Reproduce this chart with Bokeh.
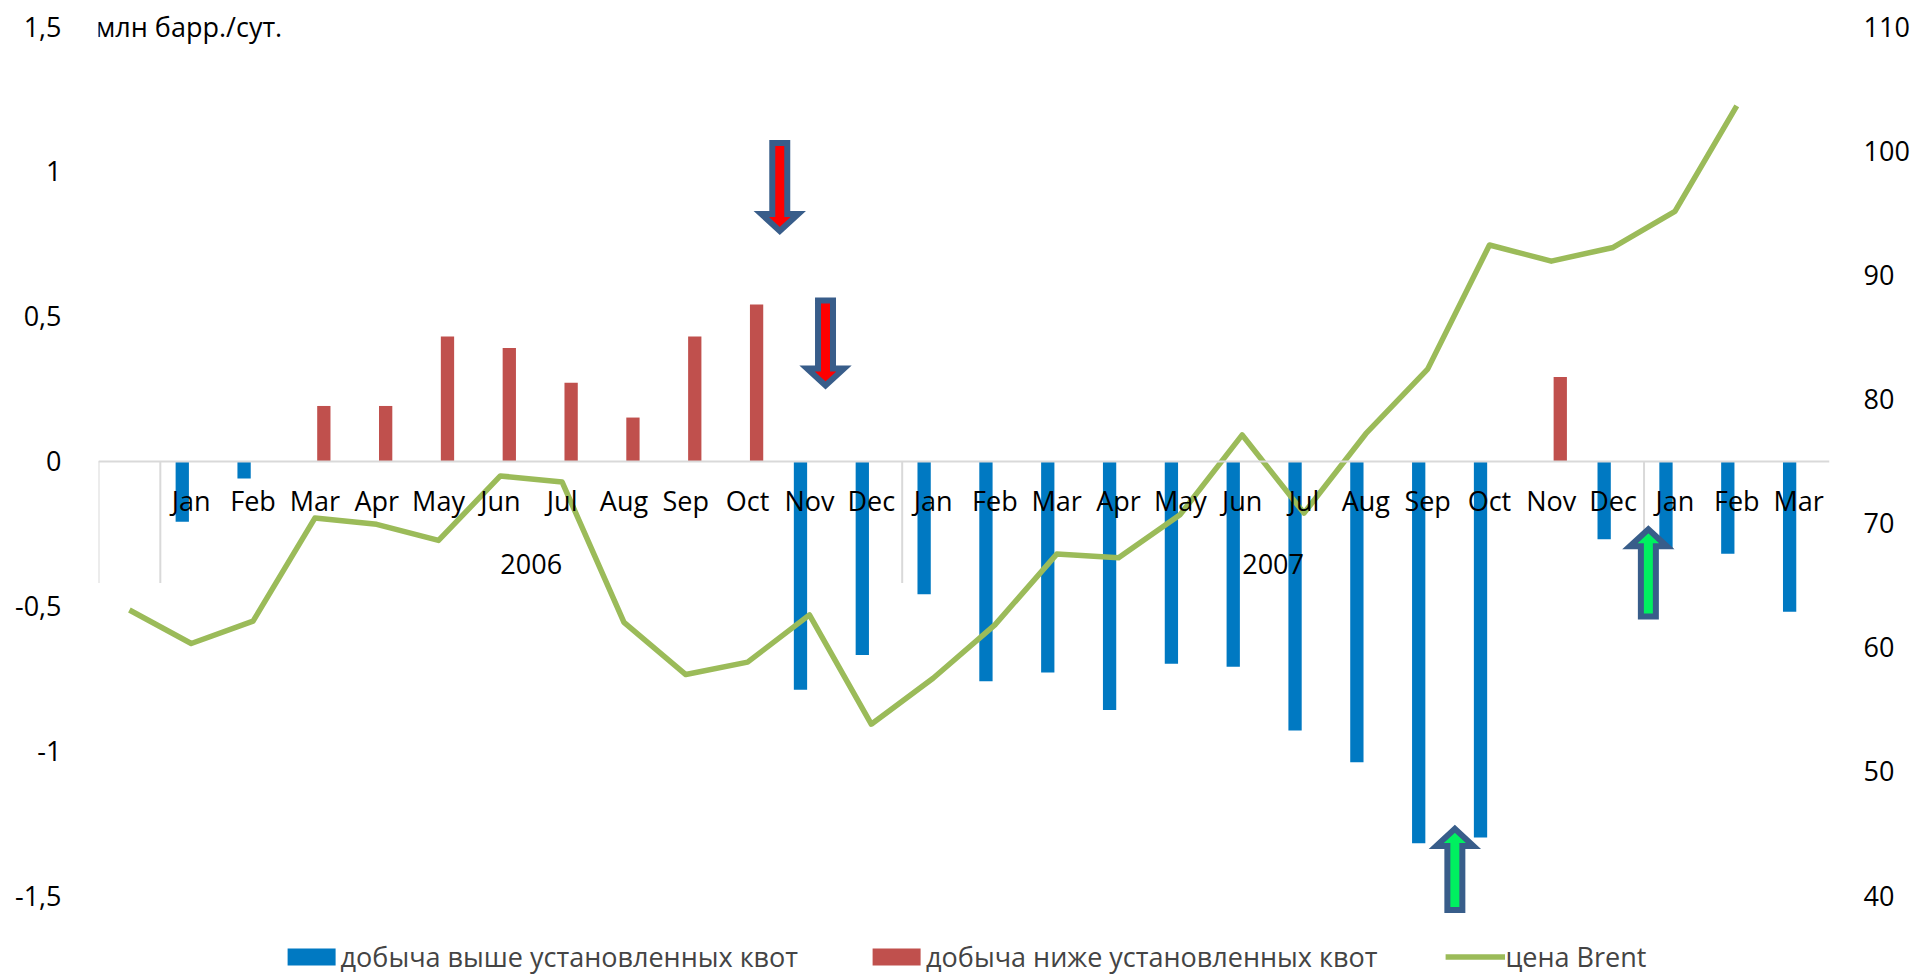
from bokeh.plotting import figure
from bokeh.models import (FactorRange, Range1d, LinearAxis, FixedTicker, Legend,
                          LegendItem, ColumnDataSource, Label)
from bokeh.transform import dodge
from bokeh.core.properties import value
from bokeh.embed import file_html
from bokeh.resources import INLINE

# ---------------- data ----------------
month_names = ["Jan", "Feb", "Mar", "Apr", "May", "Jun",
               "Jul", "Aug", "Sep", "Oct", "Nov", "Dec"]
years = ["2005"] + ["2006"] * 12 + ["2007"] * 12 + ["2008"] * 3
months = [""] + month_names + month_names + ["Jan", "Feb", "Mar"]
year_labels = ["2006", "2007"]

# production above quotas (million bbl/day, shown negative)
above_quota = [None, -0.21, -0.06, None, None, None, None, None, None, None, None,
               -0.79, -0.67, -0.46, -0.76, -0.73, -0.86, -0.70, -0.71, -0.93, -1.04,
               -1.32, -1.30, None, -0.27, -0.30, -0.32, -0.52]
# production below quotas
below_quota = [None, None, None, 0.19, 0.19, 0.43, 0.39, 0.27, 0.15, 0.43, 0.54,
               None, None, None, None, None, None, None, None, None, None,
               None, None, 0.29, None, None, None, None]
# Brent price, USD/bbl
brent = [63.0, 60.3, 62.1, 70.4, 69.9, 68.6, 73.8, 73.3, 62.0, 57.8, 58.8,
         62.6, 53.8, 57.5, 61.8, 67.5, 67.2, 70.7, 77.1, 70.8, 77.2,
         82.4, 92.4, 91.1, 92.2, 95.1, 103.6, None]

left_ticks = [-1.5, -1.0, -0.5, 0.0, 0.5, 1.0, 1.5]
left_tick_labels = ["-1,5", "-1", "-0,5", "0", "0,5", "1", "1,5"]
right_ticks = [40, 50, 60, 70, 80, 90, 100, 110]

label_above = "добыча выше установленных квот"
label_below = "добыча ниже установленных квот"
label_brent = "цена Brent"
unit_label = "млн барр./сут."

# annotation arrows: category, offset within category, tail value, tip value
arrow_cat = [("2006", "Nov"), ("2006", "Nov"), ("2007", "Sep"), ("2008", "Jan")]
arrow_dx = [-0.48, 0.26, 0.44, -0.43]
arrow_tail = [1.098, 0.554, -1.55, -0.537]
arrow_tip = [0.794, 0.261, -1.27, -0.236]
arrow_fill = ["#FF0000", "#FF0000", "#00F060", "#00F060"]

# ---------------- style / layout ----------------
BLUE = "#0079C2"
RED = "#C0504D"
GREEN = "#9BBB59"
GREY = "#D9D9D9"
OUTLINE = "#385D8A"
FONT = "Open Sans"
FS = "27px"

W, H = 1912, 975
ML, MR = 98, 81
TOP_PX = 26                       # pixel row of the top tick (1,5 / 110)
FRAME_W = W - ML - MR
N = len(months)
PXX = FRAME_W / N                 # px per category
PXY = 869 / 3.0                   # px per left-axis unit
Y_END = 1.5 + TOP_PX / PXY
Y_START = 1.5 - (H - TOP_PX) / PXY
R_PER_UNIT = (110 - 40) / 3.0
R_END = 40 + (Y_END + 1.5) * R_PER_UNIT
R_START = 40 + (Y_START + 1.5) * R_PER_UNIT

factors = list(zip(years, months))
idx = {f: i for i, f in enumerate(factors)}

x_range = FactorRange(*factors, factor_padding=0, group_padding=0,
                      subgroup_padding=0, range_padding=0)

p = figure(width=W, height=H, x_range=x_range, y_range=Range1d(Y_START, Y_END),
           output_backend="svg", toolbar_location=None,
           min_border_left=ML, min_border_right=MR, min_border_top=0,
           min_border_bottom=0)
p.outline_line_color = None
p.grid.visible = False
p.extra_y_ranges = {"brent": Range1d(R_START, R_END)}

# x axis at zero
xa = p.xaxis[0]
xa.fixed_location = 0
xa.axis_line_color = GREY
xa.axis_line_width = 2
xa.major_tick_line_color = None
xa.minor_tick_line_color = None
xa.major_label_text_font = FONT
xa.major_label_text_font_size = FS
xa.major_label_text_color = "black"
xa.major_label_standoff = 15
xa.group_text_color = None
xa.separator_line_color = None

# left axis
ya = p.yaxis[0]
ya.ticker = FixedTicker(ticks=left_ticks)
ya.major_label_overrides = dict(zip(left_ticks, left_tick_labels))
ya.axis_line_color = None
ya.major_tick_line_color = None
ya.minor_tick_line_color = None
ya.major_label_standoff = 31
ya.major_label_text_font = FONT
ya.major_label_text_font_size = FS
ya.major_label_text_color = "black"

# right axis
ra = LinearAxis(y_range_name="brent", ticker=FixedTicker(ticks=right_ticks))
ra.axis_line_color = None
ra.major_tick_line_color = None
ra.minor_tick_line_color = None
ra.major_label_standoff = 28
ra.major_label_text_font = FONT
ra.major_label_text_font_size = FS
ra.major_label_text_color = "black"
p.add_layout(ra, "right")

# group separators (at start of each year group)
sep_x = [0] + [i for i in range(1, N) if years[i] != years[i - 1]]
p.segment(x0=sep_x, y0=[0] * len(sep_x), x1=sep_x, y1=[-122 / PXY] * len(sep_x),
          line_color=GREY, line_width=2)

# bars
bsrc = ColumnDataSource(dict(x=[f for f, v in zip(factors, above_quota) if v is not None],
                             top=[v for v in above_quota if v is not None]))
rsrc = ColumnDataSource(dict(x=[f for f, v in zip(factors, below_quota) if v is not None],
                             top=[v for v in below_quota if v is not None]))
rb = p.vbar(x=dodge("x", -0.145, range=p.x_range), top="top", bottom=0, width=0.215,
            source=bsrc, fill_color=BLUE, line_color=None)
rr = p.vbar(x=dodge("x", 0.145, range=p.x_range), top="top", bottom=0, width=0.215,
            source=rsrc, fill_color=RED, line_color=None)

# year labels (drawn over the bars)
yl_x = []
for y in year_labels:
    ii = [i for i, yy in enumerate(years) if yy == y]
    yl_x.append((min(ii) + max(ii) + 1) / 2.0)
p.text(x=yl_x, y=[0] * len(yl_x), text=year_labels, y_offset=103,
       text_align="center", text_baseline="middle",
       text_font=value(FONT), text_font_size=FS, text_color="black")

# Brent line
lsrc = ColumnDataSource(dict(x=factors, y=[float("nan") if v is None else v for v in brent]))
rl = p.line(x="x", y="y", source=lsrc, y_range_name="brent",
            line_color=GREEN, line_width=5.5, line_join="round")

# arrows
sw = 7.5 / PXX
hw = 18.5 / PXX
hl = 17 / PXY
axs, ays = [], []
for cat, dx, t0, t1 in zip(arrow_cat, arrow_dx, arrow_tail, arrow_tip):
    c = idx[cat] + 0.5 + dx
    d = 1 if t1 > t0 else -1
    hb = t1 - d * hl
    axs.append([c - sw, c - sw, c - hw, c, c + hw, c + sw, c + sw])
    ays.append([t0, hb, hb, t1, hb, hb, t0])
p.patches(xs=axs, ys=ays, fill_color=arrow_fill, line_color=OUTLINE,
          line_width=6, line_join="miter")

# unit label
p.add_layout(Label(x=0, y=1.5, text=unit_label, text_baseline="middle", x_offset=-3,
                   text_font=FONT, text_font_size=FS, text_color="black"))

# legend
legend = Legend(items=[LegendItem(label=value(label_above), renderers=[rb]),
                       LegendItem(label=value(label_below), renderers=[rr]),
                       LegendItem(label=value(label_brent), renderers=[rl])],
                orientation="horizontal", location="bottom_center",
                margin=0, padding=0, spacing=68, label_standoff=0,
                glyph_width=60, glyph_height=21,
                label_text_font=FONT, label_text_font_size=FS,
                border_line_color=None, background_fill_alpha=0)
p.add_layout(legend)

open("out.html", "w").write(file_html(p, INLINE, title="chart"))
